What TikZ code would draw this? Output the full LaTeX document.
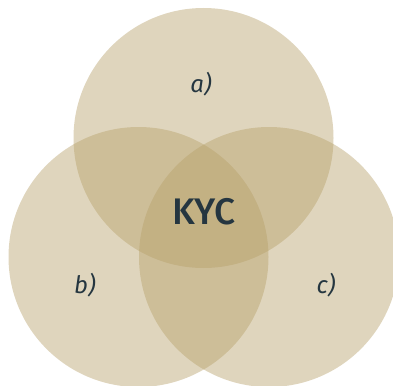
\documentclass[tikz,border=0pt]{standalone}
\usepackage{fontspec}
\setmainfont{Fira Sans}
\newfontfamily\kycfont{Fira Sans}[UprightFont=* Medium]
\usetikzlibrary{positioning}

\definecolor{kycsand}{RGB}{182,160,105}
\definecolor{kycink}{RGB}{37,54,64}

\begin{document}
\begin{tikzpicture}[
  x=1pt,y=-1pt,
  set/.style={circle,fill=kycsand,fill opacity=.44,minimum size=260pt,inner sep=0pt},
  label text/.style={text=kycink,font=\fontsize{24}{28}\selectfont\itshape},
  core/.style={text=kycink,font=\kycfont\fontsize{37}{42}\selectfont}
]
  \useasboundingbox (0,0) rectangle (393,385);
  \clip (0,0) rectangle (393,385);

  \node[set] (A) at (203.5,138) {};
  \node[set] (B) at (138.5,257) {};
  \node[set] (C) at (269,257) {};

  \node[label text] (la) at (201,84) {a)};
  \node[label text] (lb) at (85,285) {b)};
  \node[label text] (lc) at (326,285) {c)};
  \node[core] (kyc) at (204,212) {KYC};
\end{tikzpicture}
\end{document}
